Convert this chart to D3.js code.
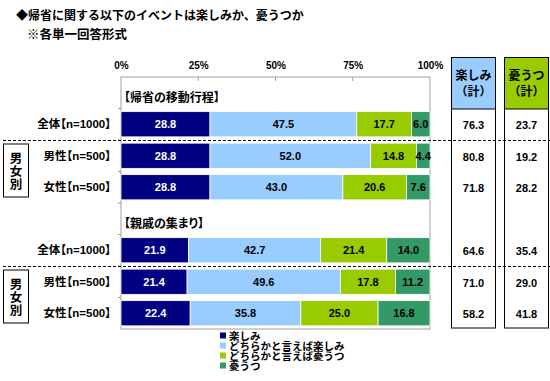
<!DOCTYPE html>
<html><head><meta charset="utf-8">
<script src="https://cdn.jsdelivr.net/npm/d3@7"></script>
<style>
body{margin:0;background:#fff;}
svg{display:block;}
text{font-family:"Liberation Sans","Noto Sans CJK JP",sans-serif;}
.palt{font-feature-settings:"palt";}
</style></head><body>
<svg id="c" width="550" height="381"></svg>
<script>
const title = "◆帰省に関する以下のイベントは楽しみか、憂うつか";
const subtitle = "※各単一回答形式";
const groups = ["【帰省の移動行程】", "【親戚の集まり】"];
const rowLabels = ["全体【n=1000】", "男性【n=500】", "女性【n=500】", "全体【n=1000】", "男性【n=500】", "女性【n=500】"];
const seriesNames = ["楽しみ", "どちらかと言えば楽しみ", "どちらかと言えば憂うつ", "憂うつ"];
const tanoshimi = [28.8, 28.8, 28.8, 21.9, 21.4, 22.4];
const dochiraTanoshimi = [47.5, 52.0, 43.0, 42.7, 49.6, 35.8];
const dochiraYuutsu = [17.7, 14.8, 20.6, 21.4, 17.8, 25.0];
const yuutsu = [6.0, 4.4, 7.6, 14.0, 11.2, 16.8];
const totalTanoshimi = [76.3, 80.8, 71.8, 64.6, 71.0, 58.2];
const totalYuutsu = [23.7, 19.2, 28.2, 35.4, 29.0, 41.8];
const xTicks = [0, 25, 50, 75, 100];
const colors = ["#000080", "#99ccff", "#99cc00", "#339966"];
const textColors = ["#fff", "#000", "#000", "#000"];

const svg = d3.select("#c");
const L = 121, R = 430, T = 77, B = 329;

const slots = ["g0", "r0", "r1", "r2", "g1", "r3", "r4", "r5"];
const y = d3.scaleBand().domain(slots).range([T, B]).paddingInner(0.2).paddingOuter(0.1);
const x = d3.scaleLinear().domain([0, 100]).range([L, R]);
const step = y.step();
const slotTop = k => y(k) - y.paddingInner() * step / 2;

// title
svg.append("text").attr("x", 16).attr("y", 20).attr("font-size", 12).attr("font-weight", "bold").text(title);
svg.append("text").attr("x", 27).attr("y", 39).attr("font-size", 12.5).attr("font-weight", "bold").text(subtitle);

// plot area border
svg.append("rect").attr("x", L).attr("y", T).attr("width", R - L).attr("height", B - T)
  .attr("fill", "none").attr("stroke", "#a0a0a0").attr("stroke-width", 1);

// top axis
const xAxis = d3.axisTop(x).tickValues(xTicks).tickFormat(d => d + "%").tickSize(0).tickPadding(8);
const gx = svg.append("g").attr("transform", `translate(0,${T})`).call(xAxis);
gx.select(".domain").remove();
gx.selectAll("text").attr("font-size", 10).attr("font-weight", "bold").attr("fill", "#000")
  .attr("font-family", "Liberation Sans, sans-serif");
svg.append("g").selectAll("line").data(xTicks.slice(1, -1)).join("line")
  .attr("x1", d => x(d)).attr("x2", d => x(d)).attr("y1", T).attr("y2", T + 4)
  .attr("stroke", "#a0a0a0");

// left axis ticks at slot boundaries
const bounds = d3.range(1, slots.length).map(i => T + i * step);
svg.append("g").selectAll("line").data(bounds).join("line")
  .attr("x1", L - 3).attr("x2", L).attr("y1", d => d).attr("y2", d => d).attr("stroke", "#a0a0a0");

// stacked data
const rows = rowLabels.map((lab, i) => ({key: "r" + i, label: lab,
  vals: [tanoshimi[i], dochiraTanoshimi[i], dochiraYuutsu[i], yuutsu[i]]}));
const stack = d3.stack().keys([0, 1, 2, 3]).value((d, k) => d.vals[k]);
const layers = stack(rows);

const gBars = svg.append("g");
layers.forEach((layer, k) => {
  gBars.selectAll(null).data(layer).join("rect")
    .attr("x", d => x(d[0])).attr("y", d => y(d.data.key))
    .attr("width", d => x(d[1]) - x(d[0])).attr("height", y.bandwidth())
    .attr("fill", colors[k]).attr("stroke", "#fff").attr("stroke-width", 0.8);
  gBars.selectAll(null).data(layer).join("text")
    .attr("x", d => (x(d[0]) + x(d[1])) / 2).attr("y", d => y(d.data.key) + y.bandwidth() / 2 + 4)
    .attr("text-anchor", "middle").attr("font-size", 11).attr("font-weight", "bold")
    .attr("fill", textColors[k]).text(d => (d[1] - d[0]).toFixed(1));
});

// group headers
groups.forEach((g, i) => {
  svg.append("text").attr("class", "palt").attr("x", L + 3).attr("y", y("g" + i) + y.bandwidth() / 2 + 9)
    .attr("font-size", 12).attr("font-weight", "bold").text(g);
});

// row labels
svg.append("g").selectAll("text").data(rows).join("text")
  .attr("class", "palt")
  .attr("x", 111).attr("y", d => y(d.key) + y.bandwidth() / 2 + 4)
  .attr("text-anchor", "end").attr("font-size", 11.5).attr("font-weight", "bold").text(d => d.label);

// 男女別 boxes
[["r1", "r2"], ["r4", "r5"]].forEach(([a, b]) => {
  const top = slotTop(a) + 4, bot = slotTop(b) + step - 6;
  svg.append("rect").attr("x", 3.5).attr("y", top).attr("width", 25).attr("height", bot - top)
    .attr("fill", "#fff").attr("stroke", "#000").attr("stroke-width", 1);
  const cy = (top + bot) / 2;
  ["男", "女", "別"].forEach((c, j) => {
    svg.append("text").attr("x", 16).attr("y", cy + (j - 1) * 13 + 5).attr("text-anchor", "middle")
      .attr("font-size", 12.5).attr("font-weight", "bold").text(c);
  });
});

// right columns
const cols = [
  {x0: 451.5, x1: 495.5, fill: "#99ccff", head: "楽しみ", vals: totalTanoshimi},
  {x0: 504.5, x1: 548.5, fill: "#99cc00", head: "憂うつ", vals: totalYuutsu}
];
const headTop = 57.5, headBot = 109;
cols.forEach(c => {
  svg.append("rect").attr("x", c.x0).attr("y", headTop).attr("width", c.x1 - c.x0).attr("height", headBot - headTop)
    .attr("fill", c.fill);
  svg.append("rect").attr("x", c.x0).attr("y", headTop).attr("width", c.x1 - c.x0).attr("height", B - 1 - headTop)
    .attr("fill", "none").attr("stroke", "#000").attr("stroke-width", 1);
  svg.append("line").attr("x1", c.x0).attr("x2", c.x1).attr("y1", headBot).attr("y2", headBot)
    .attr("stroke", "#000");
  const cx = (c.x0 + c.x1) / 2;
  svg.append("text").attr("x", cx).attr("y", 80).attr("text-anchor", "middle")
    .attr("font-size", 12).attr("font-weight", "bold").text(c.head);
  svg.append("text").attr("x", cx).attr("y", 96).attr("text-anchor", "middle")
    .attr("font-size", 12).attr("font-weight", "bold").text("（計）");
  svg.append("g").selectAll("text").data(rows).join("text")
    .attr("x", cx).attr("y", (d, i) => y(d.key) + y.bandwidth() / 2 + 5)
    .attr("text-anchor", "middle").attr("font-size", 11).attr("font-weight", "bold")
    .attr("font-family", "Liberation Mono, monospace")
    .text((d, i) => c.vals[i].toFixed(1));
});

// dashed separators
["r1", "r4"].forEach(k => {
  const yy = slotTop(k) + 0.5;
  svg.append("line").attr("x1", 3).attr("x2", 550).attr("y1", yy).attr("y2", yy)
    .attr("stroke", "#000").attr("stroke-width", 1).attr("stroke-dasharray", "3,2");
});

// legend
const lg = svg.append("g").attr("transform", "translate(220,331)");
seriesNames.forEach((n, i) => {
  lg.append("rect").attr("x", 0).attr("y", i * 10 + 1.5).attr("width", 6).attr("height", 6).attr("fill", colors[i]);
  lg.append("text").attr("x", 9).attr("y", i * 10 + 8.5).attr("font-size", 10.5).attr("font-weight", "bold").text(n);
});
</script></body></html>
